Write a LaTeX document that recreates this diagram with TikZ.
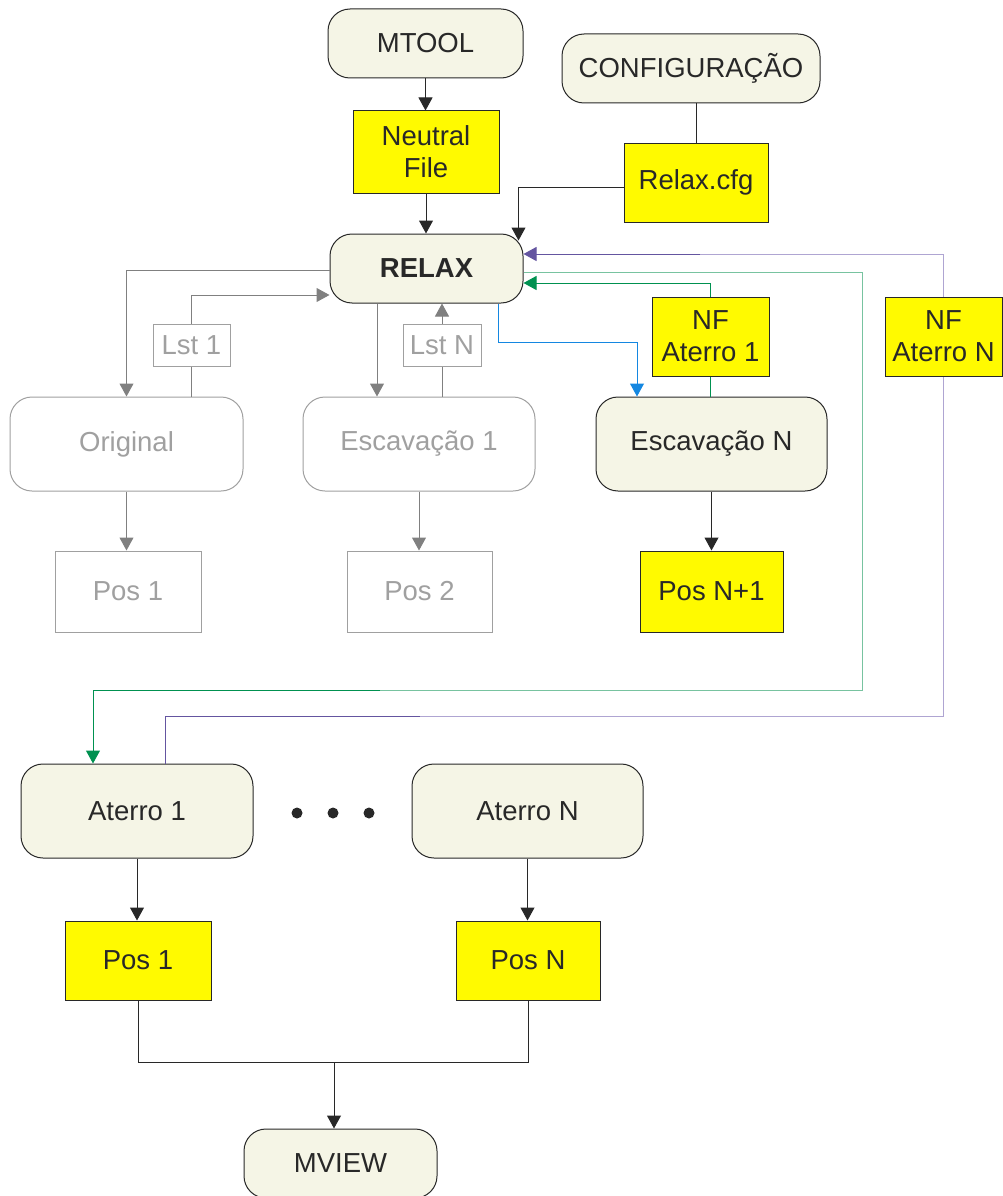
\documentclass[tikz,border=0pt]{standalone}
\usepackage{fontspec}
\setmainfont{Liberation Sans}
\usetikzlibrary{arrows.meta}
\definecolor{cream}{RGB}{245,245,230}
\definecolor{yel}{RGB}{255,250,0}
\definecolor{edge}{RGB}{40,40,40}
\definecolor{ghost}{RGB}{160,160,160}
\definecolor{ghostarr}{RGB}{128,128,128}
\definecolor{blu}{RGB}{20,135,225}
\definecolor{dgreen}{RGB}{0,145,80}
\definecolor{lgreen}{RGB}{120,195,160}
\definecolor{purp}{RGB}{100,85,160}
\definecolor{lpurp}{RGB}{175,165,210}
\begin{document}
\begin{tikzpicture}[x=1pt,y=-1pt,
  every node/.style={font=\fontsize{27.5}{32}\selectfont, inner sep=0pt, align=center},
  proc/.style={draw=edge, fill=cream, rounded corners=22pt, line width=1pt, text=edge},
  filebox/.style={draw=edge, fill=yel, line width=1pt, text=edge},
  ghostproc/.style={draw=ghost, rounded corners=22pt, line width=1pt, text=ghost},
  ghostfile/.style={draw=ghost, line width=1pt, text=ghost},
  conn/.style={line width=1pt, color=edge},
  arr/.style={line width=1pt, color=edge, -{Triangle[length=13pt,width=14pt]}}
]
\useasboundingbox (0,0) rectangle (1003,1196);

% nodes
\node[proc, minimum width=195pt, minimum height=69pt] (mtool) at (425.5,43.5) {MTOOL};
\node[proc, minimum width=258pt, minimum height=69pt] (config) at (691,68.5) {CONFIGURAÇÃO};
\node[filebox, minimum width=146pt, minimum height=82pt] (nfile) at (426,152) {Neutral\\File};
\node[filebox, minimum width=144pt, minimum height=79pt] (cfg) at (696,182.5) {Relax.cfg};
\node[proc, minimum width=193pt, minimum height=69pt, font=\fontsize{27.5}{32}\selectfont\bfseries] (relax) at (426.5,268.5) {RELAX};
\node[ghostfile, minimum width=77pt, minimum height=42pt] (lst1) at (191.5,345) {Lst 1};
\node[ghostfile, minimum width=78pt, minimum height=42pt] (lstn) at (442,345) {Lst N};
\node[filebox, minimum width=117pt, minimum height=79pt] (nfa1) at (710.5,336.5) {NF\\Aterro 1};
\node[filebox, minimum width=117pt, minimum height=79pt] (nfan) at (943.5,336.5) {NF\\Aterro N};
\node[ghostproc, minimum width=233pt, minimum height=94pt] (orig) at (126.5,444) {Original};
\node[ghostproc, minimum width=232pt, minimum height=94pt] (esc1) at (419,444) {Escavação 1};
\node[proc, minimum width=231pt, minimum height=94pt] (escn) at (711.5,444) {Escavação N};
\node[ghostfile, minimum width=146pt, minimum height=81pt] (pos1g) at (128,591.5) {Pos 1};
\node[ghostfile, minimum width=145pt, minimum height=81pt] (pos2) at (419.5,591.5) {Pos 2};
\node[filebox, minimum width=143pt, minimum height=81pt] (posn1) at (711.5,591.5) {Pos N+1};
\node[proc, minimum width=232pt, minimum height=94pt] (at1) at (137,811) {Aterro 1};
\node[proc, minimum width=231pt, minimum height=94pt] (atn) at (527.5,811) {Aterro N};
\node[filebox, minimum width=146pt, minimum height=79pt] (pos1) at (138,960.5) {Pos 1};
\node[filebox, minimum width=144pt, minimum height=79pt] (posn) at (528,960.5) {Pos N};
\node[proc, minimum width=193pt, minimum height=69pt] (mview) at (340.5,1163.5) {MVIEW};

% dots
\fill[edge] (297,813) circle (5.5pt);
\fill[edge] (333,813) circle (5.5pt);
\fill[edge] (369,813) circle (5.5pt);

% helper coordinates
\coordinate (g2) at (862,690);
\coordinate (g3) at (380,690);
\coordinate (pl) at (420,716);
\coordinate (pu) at (700,254);
\coordinate (mj) at (334,1062);

% top connectors
\draw[arr] (mtool.south) -- (mtool.south |- nfile.north);
\draw[arr] (nfile.south) -- (nfile.south |- relax.north);
\draw[conn] (cfg.north |- config.south) -- (cfg.north);
\draw[arr] ([yshift=-4.5pt]cfg.west) -| ([xshift=-5pt,yshift=-7pt]relax.north east);

% gray (inactive) connectors
\draw[arr, ghostarr] ([yshift=-1.5pt]relax.west) -| (orig.north);
\draw[conn, ghostarr] (orig.north -| lst1.south) -- (lst1.south);
\draw[arr, ghostarr] (lst1.north) |- ([yshift=-26.5pt]relax.west);
\draw[arr, ghostarr] ([xshift=-49.5pt]relax.south) -- ([xshift=-42pt]esc1.north);
\draw[conn, ghostarr] (esc1.north -| lstn.south) -- (lstn.south);
\draw[arr, ghostarr] (lstn.north) -- (lstn.north |- relax.south);
\draw[arr, ghostarr] (orig.south) -- (orig.south |- pos1g.north);
\draw[arr, ghostarr] (esc1.south) -- (esc1.south |- pos2.north);

% blue
\draw[arr, blu] ([xshift=71.5pt]relax.south) |- ([xshift=-74.5pt,yshift=54pt]escn.north) -- ([xshift=-74.5pt]escn.north);

% dark green through NF Aterro 1
\draw[conn, dgreen] (escn.north -| nfa1.south) -- (nfa1.south);
\draw[arr, dgreen] (nfa1.north) |- ([yshift=-14.5pt]relax.east);

% light green to Aterro 1
\draw[conn, lgreen] ([yshift=-3.5pt]relax.east) -| (g2) -- (g3);
\draw[arr, dgreen] (g3) -| ([xshift=-44pt]at1.north);

% purple through NF Aterro N
\draw[conn, purp] ([xshift=28pt]at1.north) |- (pl);
\draw[conn, lpurp] (pl) -| (nfan.south);
\draw[conn, lpurp] (nfan.north) |- (pu);
\draw[arr, purp] (pu) -- ([yshift=14.5pt]relax.east);

% bottom connectors
\draw[arr] (escn.south) -- (escn.south |- posn1.north);
\draw[arr] (at1.south) -- (at1.south |- pos1.north);
\draw[arr] (atn.south) -- (atn.south |- posn.north);
\draw[conn] (pos1.south) |- (mj) -| (posn.south);
\draw[arr] (mj) -- (mj |- mview.north);
\end{tikzpicture}
\end{document}
